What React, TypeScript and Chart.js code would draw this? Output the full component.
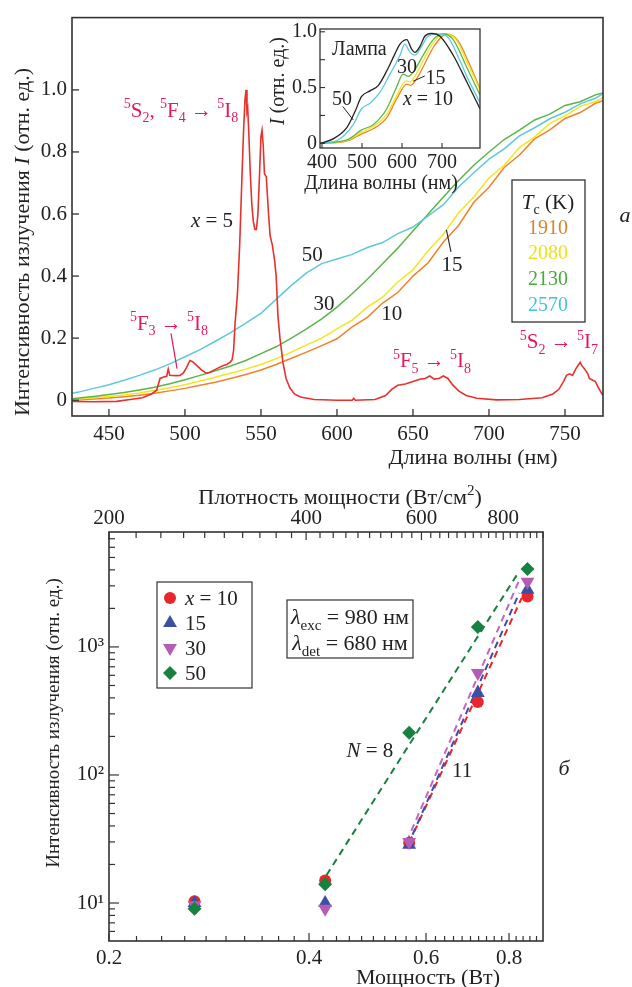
import React, { useEffect, useRef } from 'react';
import { Chart, registerables } from 'chart.js';

Chart.register(...registerables);

const FAM = '"Liberation Serif", "Times New Roman", Times, serif';
const PINK = '#e4195c';
const INK = '#222';
const C_RED = '#e8302c';
const C_CYAN = '#5ec9dc';
const C_GREEN = '#5cb548';
const C_YELLOW = '#f3e51e';
const C_ORANGE = '#f0822a';

// ---------- panel a: emission spectra ----------
const wavelength = [426, 430, 440, 450, 460, 470, 480, 490, 500, 510, 520, 530, 540, 550, 560, 570, 580, 590, 600, 610, 620, 630, 640, 650, 660, 670, 680, 690, 700, 710, 720, 730, 740, 750, 760, 770, 775];
const spec2570 = [0.022, 0.026, 0.038, 0.05, 0.064, 0.08, 0.097, 0.117, 0.14, 0.163, 0.19, 0.218, 0.248, 0.28, 0.325, 0.37, 0.41, 0.44, 0.455, 0.47, 0.492, 0.508, 0.537, 0.558, 0.594, 0.63, 0.687, 0.733, 0.777, 0.81, 0.852, 0.878, 0.907, 0.928, 0.955, 0.973, 0.988];
const spec2130 = [0.005, 0.007, 0.012, 0.018, 0.025, 0.033, 0.042, 0.053, 0.066, 0.08, 0.095, 0.11, 0.128, 0.15, 0.172, 0.2, 0.23, 0.262, 0.3, 0.343, 0.39, 0.44, 0.49, 0.545, 0.6, 0.655, 0.708, 0.757, 0.8, 0.84, 0.87, 0.903, 0.922, 0.95, 0.962, 0.984, 0.99];
const spec2080 = [0.002, 0.004, 0.008, 0.012, 0.017, 0.023, 0.031, 0.04, 0.05, 0.062, 0.074, 0.087, 0.1, 0.115, 0.134, 0.155, 0.178, 0.2, 0.23, 0.258, 0.3, 0.332, 0.381, 0.42, 0.482, 0.535, 0.604, 0.655, 0.716, 0.757, 0.814, 0.848, 0.892, 0.916, 0.947, 0.962, 0.975];
const spec1910 = [0.0, 0.001, 0.004, 0.007, 0.011, 0.016, 0.022, 0.03, 0.038, 0.048, 0.058, 0.07, 0.083, 0.097, 0.115, 0.135, 0.155, 0.176, 0.198, 0.236, 0.267, 0.313, 0.347, 0.4, 0.443, 0.51, 0.563, 0.638, 0.686, 0.75, 0.79, 0.842, 0.871, 0.908, 0.927, 0.957, 0.965];

const x5Wavelength = [426, 440, 455, 464, 472, 478, 481.4, 483.6, 486, 488, 489, 490, 494, 496.7, 499, 501, 503.3, 505, 507.7, 511, 514, 516.5, 518.7, 522, 525.3, 527.5, 529.6, 531, 532, 533, 534.5, 536, 537.5, 538.5, 539.5, 540.2, 540.8, 541.3, 542, 543, 544, 545, 546, 547, 548, 549, 550, 550.7, 551.5, 552.3, 553.5, 555, 556, 557.5, 559, 560, 561.2, 562.5, 564.5, 566.5, 569, 572, 576, 585, 600, 610, 611, 612, 625, 632, 636, 640, 645, 650, 655, 658, 661, 664, 667, 670, 673, 676, 680, 685, 692, 705, 720, 735, 742, 746, 749, 751, 753, 755, 757, 759, 760, 761, 763, 765, 766, 768, 770, 772, 775];
const x5Intensity = [-0.004, -0.005, -0.004, 0.002, 0.008, 0.02, 0.032, 0.07, 0.075, 0.077, 0.1, 0.08, 0.079, 0.08, 0.088, 0.105, 0.128, 0.124, 0.112, 0.097, 0.087, 0.09, 0.096, 0.104, 0.112, 0.115, 0.122, 0.13, 0.16, 0.25, 0.34, 0.5, 0.72, 0.86, 0.97, 1.0, 0.93, 0.94, 0.86, 0.73, 0.63, 0.575, 0.55, 0.55, 0.6, 0.72, 0.85, 0.87, 0.82, 0.73, 0.72, 0.6, 0.53, 0.5, 0.45, 0.4, 0.27, 0.2, 0.12, 0.07, 0.04, 0.02, 0.01, 0.002, 0.0, 0.0, 0.006, 0.0, 0.002, 0.015, 0.035, 0.048, 0.052, 0.06, 0.068, 0.07, 0.078, 0.068, 0.07, 0.078, 0.07, 0.05, 0.03, 0.015, 0.006, 0.001, 0.002, 0.008, 0.02, 0.035, 0.06, 0.08, 0.085, 0.08, 0.1, 0.115, 0.122, 0.112, 0.1, 0.085, 0.07, 0.065, 0.06, 0.04, 0.015];

const mainXTicks = [450, 500, 550, 600, 650, 700, 750];
const mainYTicks = [0, 0.2, 0.4, 0.6, 0.8, 1.0];
const tcValues = ['1910', '2080', '2130', '2570'];
const tcColors = ['#d9822b', '#f0e01a', '#4aa83c', '#45c2d8'];

// ---------- inset: excitation spectra ----------
const lampX = [395, 428, 462, 482, 499, 520, 541, 562, 582, 595, 612, 624, 632, 645, 657, 674, 695, 728, 762, 795];
const lampY = [0.0, 0.04, 0.14, 0.28, 0.42, 0.47, 0.52, 0.65, 0.8, 0.89, 0.93, 0.845, 0.815, 0.87, 0.96, 0.985, 0.96, 0.79, 0.55, 0.31];
const ins50X = [395, 440, 478, 499, 520, 545, 570, 595, 607, 620, 632, 649, 665, 687, 712, 745, 762, 795];
const ins50Y = [0.0, 0.03, 0.167, 0.31, 0.36, 0.46, 0.62, 0.79, 0.89, 0.815, 0.79, 0.87, 0.96, 0.98, 0.96, 0.74, 0.6, 0.364];
const ins30X = [395, 462, 499, 528, 562, 587, 603, 616, 632, 653, 678, 703, 728, 762, 795];
const ins30Y = [0.0, 0.03, 0.12, 0.167, 0.31, 0.51, 0.62, 0.6, 0.66, 0.79, 0.93, 0.98, 0.93, 0.68, 0.435];
const ins15X = [395, 462, 499, 528, 562, 587, 610, 620, 632, 653, 678, 708, 735, 762, 795];
const ins15Y = [0.0, 0.025, 0.1, 0.15, 0.26, 0.43, 0.56, 0.55, 0.6, 0.74, 0.9, 0.98, 0.93, 0.73, 0.48];
const ins10X = [395, 462, 499, 528, 562, 587, 612, 622, 635, 655, 680, 712, 740, 765, 795];
const ins10Y = [0.0, 0.02, 0.085, 0.13, 0.23, 0.4, 0.53, 0.52, 0.57, 0.7, 0.87, 0.98, 0.92, 0.74, 0.49];
const insetXTicks = [400, 500, 600, 700];
const insetYTicks = [0, 0.5, 1.0];
const insetYMinor = [0.25, 0.75];

// ---------- panel б: power dependence ----------
const powerW = [0.269, 0.423, 0.566, 0.718, 0.853];
const intX10 = [10.3, 15, 29.5, 372, 2480];
const intX15 = [10, 10, 28.5, 437, 2800];
const intX30 = [9.6, 9, 30, 627, 3230];
const intX50 = [9, 14, 214, 1430, 4070];
const fit50X = [0.425, 0.822];
const fit50Y = [16.5, 3650];
const fit10X = [0.566, 0.836];
const fit10Y = [29.5, 2415];
const fit15X = [0.563, 0.829];
const fit15Y = [28, 2640];
const fit30X = [0.561, 0.829];
const fit30Y = [30, 3335];
const powerTicks = [0.2, 0.4, 0.6, 0.8];
const densityTicks = [200, 400, 600, 800];
const intensityTicks = [10, 100, 1000];
const supDigits: any = { 10: '10¹', 100: '10²', 1000: '10³' };

const B_RED = '#e8262b';
const B_BLUE = '#3d4fa3';
const B_MAG = '#b65cb6';
const B_GREEN = '#17813f';

const pts = (xs: number[], ys: number[]) => xs.map((x, i) => ({ x, y: ys[i] }));

// ---------- rich text helper ----------
type Run = { t: string; i: boolean; sub: boolean; sup: boolean };
function parseRich(s: string): Run[] {
  const runs: Run[] = [];
  let it = false;
  let buf = '';
  let i = 0;
  const flush = () => {
    if (buf) { runs.push({ t: buf, i: it, sub: false, sup: false }); buf = ''; }
  };
  while (i < s.length) {
    const c = s[i];
    if (c === '*') { flush(); it = !it; i++; continue; }
    if (c === '^' || c === '_') {
      flush();
      let tok = '';
      if (s[i + 1] === '{') { const j = s.indexOf('}', i + 2); tok = s.slice(i + 2, j); i = j + 1; }
      else { tok = s[i + 1]; i += 2; }
      runs.push({ t: tok, i: it, sub: c === '_', sup: c === '^' });
      continue;
    }
    buf += c; i++;
  }
  flush();
  return runs;
}
function drawRich(ctx: CanvasRenderingContext2D, s: string, x: number, y: number, size: number, color: string, align = 'center', rot = 0) {
  const runs = parseRich(s);
  const fontOf = (r: Run) => `${r.i ? 'italic ' : ''}${r.sub || r.sup ? Math.round(size * 0.68) : size}px ${FAM}`;
  ctx.save();
  ctx.translate(x, y);
  ctx.rotate(rot);
  ctx.fillStyle = color;
  ctx.textBaseline = 'alphabetic';
  ctx.textAlign = 'left';
  const widths = runs.map((r) => { ctx.font = fontOf(r); return ctx.measureText(r.t).width; });
  const total = widths.reduce((a, b) => a + b, 0);
  let cx = align === 'center' ? -total / 2 : align === 'right' ? -total : 0;
  const base = size * 0.33;
  runs.forEach((r, k) => {
    ctx.font = fontOf(r);
    const dy = r.sub ? size * 0.26 : r.sup ? -size * 0.4 : 0;
    ctx.fillText(r.t, cx, base + dy);
    cx += widths[k];
  });
  ctx.restore();
}
function seg(ctx: CanvasRenderingContext2D, x1: number, y1: number, x2: number, y2: number) {
  ctx.beginPath(); ctx.moveTo(x1, y1); ctx.lineTo(x2, y2); ctx.stroke();
}

const tickFont = (size: number) => ({ size, family: FAM });
const noGrid = { display: false, drawTicks: false };

// ---------- plugins ----------
const mainDeco = {
  id: 'mainDeco',
  afterDraw(chart: any) {
    const { ctx, chartArea: a, scales } = chart;
    const X = (v: number) => scales.x.getPixelForValue(v);
    const Y = (v: number) => scales.y.getPixelForValue(v);
    ctx.save();
    ctx.strokeStyle = '#333';
    ctx.lineWidth = 1.6;
    ctx.strokeRect(a.left, a.top, a.right - a.left, a.bottom - a.top);
    ctx.lineWidth = 1.3;
    mainXTicks.forEach((v) => seg(ctx, X(v), a.bottom, X(v), a.bottom - 7));
    mainYTicks.forEach((v) => seg(ctx, a.left, Y(v), a.left + 7, Y(v)));

    drawRich(ctx, '^5S_2, ^5F_4 → ^5I_8', X(497.4), Y(0.936), 21, PINK);
    drawRich(ctx, '*x* = 5', X(517.8), Y(0.58), 21, INK);
    drawRich(ctx, '^5F_3 → ^5I_8', X(489.5), Y(0.25), 21, PINK);
    ctx.strokeStyle = PINK; ctx.lineWidth = 1.2;
    seg(ctx, X(490.8), Y(0.215), X(494.8), Y(0.102));
    drawRich(ctx, '^5F_5 → ^5I_8', X(662.5), Y(0.128), 21, PINK);
    drawRich(ctx, '^5S_2 → ^5I_7', X(746), Y(0.19), 21, PINK);

    drawRich(ctx, '50', X(583.8), Y(0.47), 21, INK);
    drawRich(ctx, '30', X(591.5), Y(0.313), 21, INK);
    drawRich(ctx, '10', X(636), Y(0.281), 21, INK);
    drawRich(ctx, '15', X(675.7), Y(0.44), 21, INK);
    ctx.strokeStyle = INK; ctx.lineWidth = 1.1;
    seg(ctx, X(672), Y(0.549), X(675), Y(0.478));

    // T_c legend
    ctx.strokeStyle = '#333'; ctx.lineWidth = 1.3;
    ctx.strokeRect(512, 180, 73, 142);
    drawRich(ctx, '*T*_c (K)', 548, 202, 21, INK);
    tcValues.forEach((t, k) => drawRich(ctx, t, 548, 227 + k * 25.7, 20, tcColors[k]));

    drawRich(ctx, '*a*', 625, 215, 22, INK);
    drawRich(ctx, 'Длина волны (нм)', 473, 457, 22, INK);
    drawRich(ctx, 'Интенсивность излучения *I* (отн. ед.)', 22, 242, 22, INK, 'center', -Math.PI / 2);
    ctx.restore();
  },
};

const insetDeco = {
  id: 'insetDeco',
  afterDraw(chart: any) {
    const { ctx, chartArea: a, scales } = chart;
    const X = (v: number) => scales.x.getPixelForValue(v);
    const Y = (v: number) => scales.y.getPixelForValue(v);
    ctx.save();
    ctx.strokeStyle = '#333';
    ctx.lineWidth = 1.3;
    ctx.strokeRect(a.left, a.top, a.right - a.left, a.bottom - a.top);
    ctx.lineWidth = 1.1;
    insetXTicks.forEach((v) => seg(ctx, X(v), a.bottom, X(v), a.bottom - 5));
    insetYTicks.concat(insetYMinor).forEach((v) => seg(ctx, a.left, Y(v), a.left + 5, Y(v)));

    drawRich(ctx, 'Лампа', X(493.5), Y(0.847), 20, INK);
    drawRich(ctx, '30', X(612.5), Y(0.686), 20, INK);
    drawRich(ctx, '15', X(684), Y(0.593), 20, INK);
    drawRich(ctx, '*x* = 10', X(665), Y(0.407), 20, INK);
    drawRich(ctx, '50', X(450), Y(0.407), 20, INK);
    ctx.strokeStyle = INK; ctx.lineWidth = 1;
    seg(ctx, X(628), Y(0.557), X(657), Y(0.604));
    seg(ctx, X(452), Y(0.33), X(478), Y(0.21));

    drawRich(ctx, 'Длина волны (нм)', 119, 168, 20, INK);
    drawRich(ctx, '*I* (отн. ед.)', 15, 67, 20, INK, 'center', -Math.PI / 2);
    ctx.restore();
  },
};

function marker(ctx: CanvasRenderingContext2D, kind: string, x: number, y: number, color: string) {
  ctx.fillStyle = color;
  ctx.beginPath();
  if (kind === 'circle') {
    ctx.arc(x, y, 6, 0, Math.PI * 2);
  } else if (kind === 'up' || kind === 'down') {
    const r = 8; const s = kind === 'up' ? 1 : -1;
    ctx.moveTo(x, y - s * r);
    ctx.lineTo(x + r * 0.866, y + s * r / 2);
    ctx.lineTo(x - r * 0.866, y + s * r / 2);
    ctx.closePath();
  } else {
    const r = 7;
    ctx.moveTo(x, y - r); ctx.lineTo(x + r, y); ctx.lineTo(x, y + r); ctx.lineTo(x - r, y); ctx.closePath();
  }
  ctx.fill();
}

const powerDeco = {
  id: 'powerDeco',
  afterDraw(chart: any) {
    const { ctx, chartArea: a, scales } = chart;
    const X = (v: number) => scales.x.getPixelForValue(v);
    const X2 = (v: number) => scales.x2.getPixelForValue(v);
    const Y = (v: number) => scales.y.getPixelForValue(v);
    ctx.save();
    ctx.strokeStyle = '#333';
    ctx.lineWidth = 1.6;
    ctx.strokeRect(a.left, a.top, a.right - a.left, a.bottom - a.top);
    ctx.lineWidth = 1.2;
    const ymin = scales.y.min, ymax = scales.y.max;
    for (let n = 0; n < 4; n++) {
      for (let k = 1; k < 10; k++) {
        const v = k * Math.pow(10, n);
        if (v < ymin || v > ymax) continue;
        seg(ctx, a.left, Y(v), a.left + (k === 1 ? 10 : 6), Y(v));
      }
    }
    for (let k = 0; k <= 34; k++) {
      const v = 0.2 + k * 0.02;
      if (v > scales.x.max) break;
      const major = k % 10 === 0;
      seg(ctx, X(v), a.bottom, X(v), a.bottom - (major ? 8 : 5));
    }
    for (let k = 0; k <= 36; k++) {
      const v = 200 + k * 20;
      if (v > scales.x2.max) break;
      const major = k % 10 === 0;
      seg(ctx, X2(v), a.top, X2(v), a.top + (major ? 8 : 6));
    }

    // legend box
    ctx.lineWidth = 1.2;
    ctx.strokeRect(157, 102, 95, 106);
    const rows = [
      ['circle', B_RED, '*x* = 10'],
      ['up', B_BLUE, '15'],
      ['down', B_MAG, '30'],
      ['diamond', B_GREEN, '50'],
    ];
    rows.forEach((r, k) => {
      marker(ctx, r[0], 170, 118 + k * 25, r[1]);
      drawRich(ctx, r[2], 185, 118 + k * 25, 21, INK, 'left');
    });
    // info box
    ctx.strokeRect(287, 120, 126, 58);
    drawRich(ctx, '*λ*_{exc} = 980 нм', 350, 137, 22, INK);
    drawRich(ctx, '*λ*_{det} = 680 нм', 350, 163, 22, INK);

    drawRich(ctx, '*N* = 8', X(0.494), Y(157), 21, INK);
    drawRich(ctx, '11', X(0.68), Y(109), 21, INK);

    drawRich(ctx, 'Плотность мощности (Вт/см^2)', 340, 17, 22, INK);
    drawRich(ctx, 'Мощность (Вт)', 428, 497, 22, INK);
    drawRich(ctx, 'Интенсивность излучения (отн. ед.)', 53, 243, 19, INK, 'center', -Math.PI / 2);
    drawRich(ctx, '*б*', 564, 288, 22, INK);
    ctx.restore();
  },
};

function lineSet(data: any[], color: string, width = 1.5) {
  return { data, borderColor: color, borderWidth: width, pointRadius: 0, fill: false, tension: 0 };
}

function mainConfig(): any {
  return {
    type: 'line',
    data: {
      datasets: [
        lineSet(pts(x5Wavelength, x5Intensity), C_RED, 1.6),
        lineSet(pts(wavelength, spec2570), C_CYAN),
        lineSet(pts(wavelength, spec2130), C_GREEN),
        lineSet(pts(wavelength, spec2080), C_YELLOW),
        lineSet(pts(wavelength, spec1910), C_ORANGE),
      ],
    },
    options: {
      animation: false,
      responsive: false,
      events: [],
      layout: { padding: { top: 14, right: 29, left: 0, bottom: 0 } },
      plugins: { legend: { display: false }, tooltip: { enabled: false } },
      scales: {
        x: {
          type: 'linear', min: 425.7, max: 775,
          grid: noGrid, border: { display: false },
          ticks: { padding: 6, font: tickFont(21), color: INK, maxRotation: 0, autoSkip: false },
          afterBuildTicks: (s: any) => { s.ticks = mainXTicks.map((v) => ({ value: v })); },
          afterFit: (s: any) => { s.height = 54; },
        },
        y: {
          type: 'linear', min: -0.051, max: 1.233,
          grid: noGrid, border: { display: false },
          ticks: { padding: 5, font: tickFont(21), color: INK, autoSkip: false, callback: (v: number) => (v === 0 ? '0' : Number(v).toFixed(1)) },
          afterBuildTicks: (s: any) => { s.ticks = mainYTicks.map((v) => ({ value: v })); },
          afterFit: (s: any) => { s.width = 72; },
        },
      },
    },
    plugins: [mainDeco],
  };
}

function insetConfig(): any {
  const mk = (xs: number[], ys: number[], c: string) => ({ ...lineSet(pts(xs, ys), c, 1.3), cubicInterpolationMode: 'monotone' });
  return {
    type: 'line',
    data: {
      datasets: [
        mk(lampX, lampY, '#222'),
        mk(ins50X, ins50Y, C_CYAN),
        mk(ins30X, ins30Y, C_GREEN),
        mk(ins15X, ins15Y, C_YELLOW),
        mk(ins10X, ins10Y, C_ORANGE),
      ],
    },
    options: {
      animation: false,
      responsive: false,
      events: [],
      layout: { padding: { top: 8, right: 7, left: 0, bottom: 0 } },
      plugins: { legend: { display: false }, tooltip: { enabled: false } },
      scales: {
        x: {
          type: 'linear', min: 395, max: 795,
          grid: noGrid, border: { display: false },
          ticks: { padding: 3, font: tickFont(20), color: INK, maxRotation: 0, autoSkip: false },
          afterBuildTicks: (s: any) => { s.ticks = insetXTicks.map((v) => ({ value: v })); },
          afterFit: (s: any) => { s.height = 51; },
        },
        y: {
          type: 'linear', min: -0.042, max: 1.025,
          grid: noGrid, border: { display: false },
          ticks: { padding: 3, font: tickFont(20), color: INK, autoSkip: false, callback: (v: number) => (v === 0 ? '0' : Number(v).toFixed(1)) },
          afterBuildTicks: (s: any) => { s.ticks = insetYTicks.map((v) => ({ value: v })); },
          afterFit: (s: any) => { s.width = 58; },
        },
      },
    },
    plugins: [insetDeco],
  };
}

function powerConfig(): any {
  const sc = (ys: number[], color: string, style: string, radius: number, rot = 0) => ({
    data: pts(powerW, ys), pointStyle: style, pointRadius: radius, pointRotation: rot,
    backgroundColor: color, borderColor: color, borderWidth: 0, showLine: false,
  });
  const fit = (xs: number[], ys: number[], color: string) => ({
    data: pts(xs, ys), showLine: true, borderColor: color, borderWidth: 2, borderDash: [7, 5], pointRadius: 0, fill: false,
  });
  return {
    type: 'scatter',
    data: {
      datasets: [
        sc(intX50, B_GREEN, 'rectRot', 7),
        sc(intX30, B_MAG, 'triangle', 8, 180),
        sc(intX15, B_BLUE, 'triangle', 8),
        sc(intX10, B_RED, 'circle', 6),
        fit(fit30X, fit30Y, '#c366c3'),
        fit(fit15X, fit15Y, B_BLUE),
        fit(fit10X, fit10Y, B_RED),
        fit(fit50X, fit50Y, B_GREEN),
      ],
    },
    options: {
      animation: false,
      responsive: false,
      events: [],
      layout: { padding: { top: 0, right: 89, left: 0, bottom: 0 } },
      plugins: { legend: { display: false }, tooltip: { enabled: false } },
      scales: {
        x: {
          type: 'logarithmic', position: 'bottom', min: 0.2, max: 0.9,
          grid: noGrid, border: { display: false },
          ticks: { padding: 5, font: tickFont(21), color: INK, maxRotation: 0, autoSkip: false, callback: (v: number) => String(v) },
          afterBuildTicks: (s: any) => { s.ticks = powerTicks.map((v) => ({ value: v })); },
          afterFit: (s: any) => { s.height = 46; },
        },
        x2: {
          type: 'logarithmic', position: 'top', axis: 'x', min: 200, max: 920,
          grid: noGrid, border: { display: false },
          ticks: { padding: 1, font: tickFont(21), color: INK, maxRotation: 0, autoSkip: false, callback: (v: number) => String(v) },
          afterBuildTicks: (s: any) => { s.ticks = densityTicks.map((v) => ({ value: v })); },
          afterFit: (s: any) => { s.height = 52; },
        },
        y: {
          type: 'logarithmic', min: 5.05, max: 7900,
          grid: noGrid, border: { display: false },
          ticks: { padding: 5, font: tickFont(21), color: INK, autoSkip: false, callback: (v: number) => supDigits[Math.round(v)] || '' },
          afterBuildTicks: (s: any) => { s.ticks = intensityTicks.map((v) => ({ value: v })); },
          afterFit: (s: any) => { s.width = 109; },
        },
      },
    },
    plugins: [powerDeco],
  };
}

export default function App() {
  const mainRef = useRef<HTMLCanvasElement>(null);
  const insetRef = useRef<HTMLCanvasElement>(null);
  const powRef = useRef<HTMLCanvasElement>(null);
  useEffect(() => {
    const charts = [
      new Chart(mainRef.current as HTMLCanvasElement, mainConfig()),
      new Chart(insetRef.current as HTMLCanvasElement, insetConfig()),
      new Chart(powRef.current as HTMLCanvasElement, powerConfig()),
    ];
    return () => charts.forEach((c) => c.destroy());
  }, []);
  return (
    <div style={{ position: 'absolute', left: 0, top: 0, width: 632, height: 987, background: '#fff', overflow: 'hidden' }}>
      <canvas ref={mainRef} width={632} height={470} style={{ position: 'absolute', left: 0, top: 0 }} />
      <canvas ref={insetRef} width={225} height={185} style={{ position: 'absolute', left: 262, top: 14 }} />
      <canvas ref={powRef} width={632} height={507} style={{ position: 'absolute', left: 0, top: 480 }} />
    </div>
  );
}
